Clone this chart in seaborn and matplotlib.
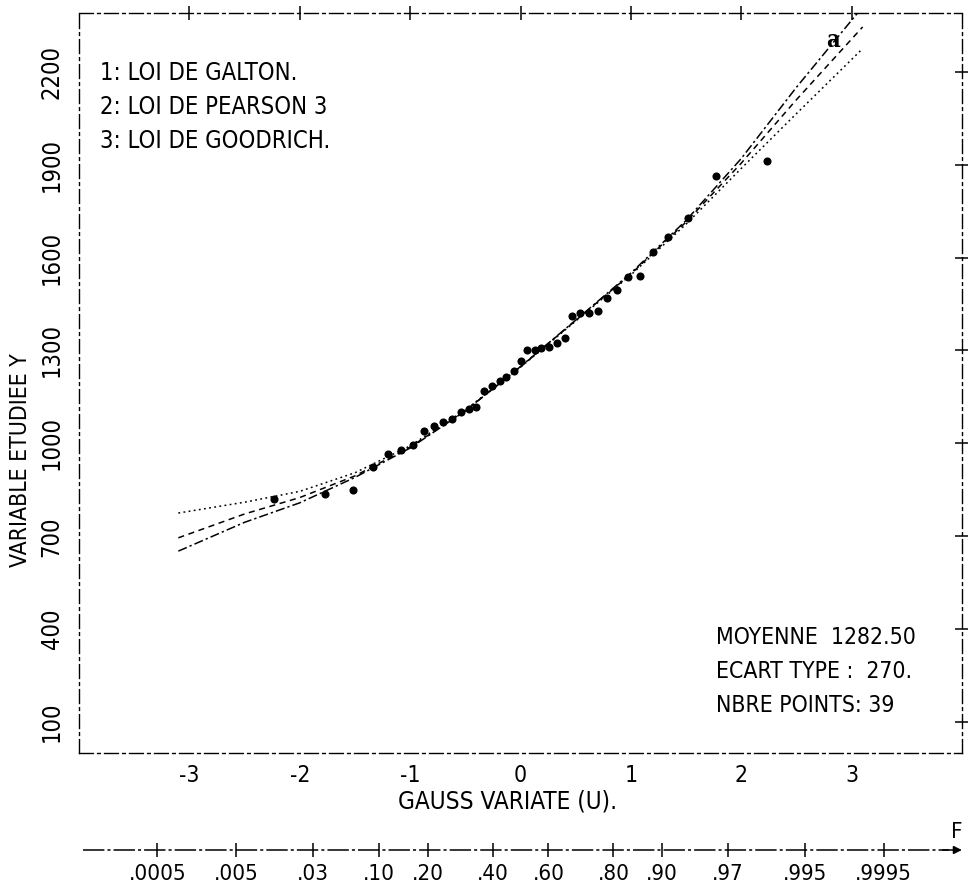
import matplotlib
matplotlib.use("Agg")
import matplotlib.pyplot as plt
import numpy as np
import pandas as pd
import seaborn as sns
from statistics import NormalDist

# ---------------- data ----------------
gauss_u = [-2.23, -1.77, -1.52, -1.34, -1.20, -1.08, -0.97, -0.87, -0.78, -0.70,
           -0.62, -0.54, -0.47, -0.40, -0.33, -0.26, -0.19, -0.13, -0.06, 0.00,
           0.06, 0.13, 0.19, 0.26, 0.33, 0.40, 0.47, 0.54, 0.62, 0.70,
           0.78, 0.87, 0.97, 1.08, 1.20, 1.34, 1.52, 1.77, 2.23]
y_obs = [820, 835, 848, 925, 965, 980, 995, 1040, 1055, 1070,
         1080, 1100, 1110, 1118, 1170, 1185, 1200, 1215, 1235, 1265,
         1300, 1303, 1308, 1312, 1325, 1340, 1412, 1420, 1422, 1428,
         1470, 1495, 1538, 1541, 1619, 1667, 1728, 1864, 1913]

curve_u = [-3.1, -2.5, -2.0, -1.5, -1.0, -0.5, 0.0, 0.5, 1.0, 1.5, 2.0, 2.5, 3.1]
galton_y = [652, 745, 808, 890, 985, 1105, 1248, 1398, 1550, 1720, 1920, 2150, 2410]
pearson_y = [695, 772, 825, 895, 988, 1105, 1247, 1397, 1547, 1715, 1905, 2110, 2345]
goodrich_y = [775, 810, 845, 905, 992, 1108, 1246, 1395, 1544, 1708, 1888, 2065, 2275]
curve_names = ["1", "2", "3"]

x_ticks = [-3, -2, -1, 0, 1, 2, 3]
x_tick_labels = ["-3", "-2", "-1", "0", "1", "2", "3"]
y_ticks = [100, 400, 700, 1000, 1300, 1600, 1900, 2200]
y_tick_labels = ["100", "400", "700", "1000", "1300", "1600", "1900", "2200"]
prob_values = [0.0005, 0.005, 0.03, 0.10, 0.20, 0.40, 0.60, 0.80, 0.90, 0.97, 0.995, 0.9995]
prob_labels = [".0005", ".005", ".03", ".10", ".20", ".40", ".60", ".80", ".90", ".97", ".995", ".9995"]

legend_lines = ["1: LOI DE GALTON.", "2: LOI DE PEARSON 3", "3: LOI DE GOODRICH."]
stats_lines = ["MOYENNE  1282.50", "ECART TYPE :  270.", "NBRE POINTS: 39"]

# ---------------- style ----------------
sns.set_theme(style="white")
plt.rcParams["font.family"] = ["Liberation Sans Narrow", "DejaVu Sans"]
plt.rcParams["font.stretch"] = "condensed"

W, H = 968, 891
fig = plt.figure(figsize=(W / 100, H / 100), dpi=100)
fig.patch.set_facecolor("white")

L, R, T, B = 79, 962, 13, 753
ax = fig.add_axes([L / W, 1 - B / H, (R - L) / W, (B - T) / H])
ax.set_facecolor("white")

df_curves = pd.DataFrame({
    "u": curve_u * 3,
    "y": galton_y + pearson_y + goodrich_y,
    "loi": [curve_names[0]] * len(curve_u) + [curve_names[1]] * len(curve_u)
           + [curve_names[2]] * len(curve_u),
})
sns.lineplot(data=df_curves, x="u", y="y", style="loi", color="black",
             dashes={"1": (6, 2, 1.5, 2), "2": (4, 3), "3": (1.2, 2.2)},
             estimator=None, sort=False, legend=False, linewidth=1.1, ax=ax)

sns.scatterplot(x=gauss_u, y=y_obs, color="black", s=34, linewidth=0,
                ax=ax, zorder=3)

ax.set_xlim(-4.0, 4.0)
ax.set_ylim(0, 2390)
ax.set_xlabel("")
ax.set_ylabel("")

for s in ax.spines.values():
    s.set_visible(True)
    s.set_color("black")
    s.set_linewidth(1.0)
    s.set_linestyle((0, (10, 3, 2, 3)))

ax.set_xticks(x_ticks)
ax.set_xticklabels(x_tick_labels, fontsize=16.5)
ax.set_yticks(y_ticks)
ax.set_yticklabels(y_tick_labels, fontsize=17, rotation=90, va="center")
ax.tick_params(axis="both", direction="inout", length=10, width=1.1,
               colors="black", top=True, right=True,
               labeltop=False, labelright=False)
ax.tick_params(axis="x", pad=3)
ax.tick_params(axis="y", pad=6)

# legend text
for i, t in enumerate(legend_lines):
    fig.text(100 / W, 1 - (73 + 34 * i) / H, t, fontsize=17, ha="left",
             va="center", color="black")

# statistics text
for i, t in enumerate(stats_lines):
    fig.text(716 / W, 1 - (638 + 34 * i) / H, t, fontsize=16.5, ha="left",
             va="center", color="black")

# panel letter
fig.text(833 / W, 1 - 40 / H, "a", fontsize=17, fontweight="bold",
         family="DejaVu Serif", ha="center", va="center", color="black")

# axis titles
fig.text(21 / W, 1 - 460 / H, "VARIABLE ETUDIEE Y", rotation=90, fontsize=16.5,
         ha="center", va="center", color="black")
fig.text(508 / W, 1 - 802 / H, "GAUSS VARIATE (U).", fontsize=17.5,
         ha="center", va="center", color="black")

# probability axis (same Gauss scale)
ax2 = fig.add_axes([L / W, 1 - 850 / H, (R - L) / W, 0.0005])
ax2.set_xlim(ax.get_xlim())
ax2.set_ylim(0, 1)
ax2.patch.set_visible(False)
for s in ax2.spines.values():
    s.set_visible(False)
ax2.set_yticks([])
ax2.set_xticks([NormalDist().inv_cdf(p) for p in prob_values])
ax2.set_xticklabels(prob_labels, fontsize=16)
ax2.tick_params(axis="x", direction="inout", length=10, width=1.1,
                colors="black", pad=5, bottom=True, top=False)
ax2.plot([0.005, 0.985], [0, 0], transform=ax2.transAxes, color="black",
         lw=1.1, ls=(0, (14, 2, 2, 2)), clip_on=False)
ax2.annotate("", xy=(1.003, 0), xytext=(0.975, 0), xycoords="axes fraction",
             arrowprops=dict(arrowstyle="-|>", color="black", lw=1.1,
                             mutation_scale=12))
fig.text(957 / W, 1 - 832 / H, "F", fontsize=16, ha="center", va="center",
         color="black")

fig.savefig("out.png", dpi=100, facecolor="white")
